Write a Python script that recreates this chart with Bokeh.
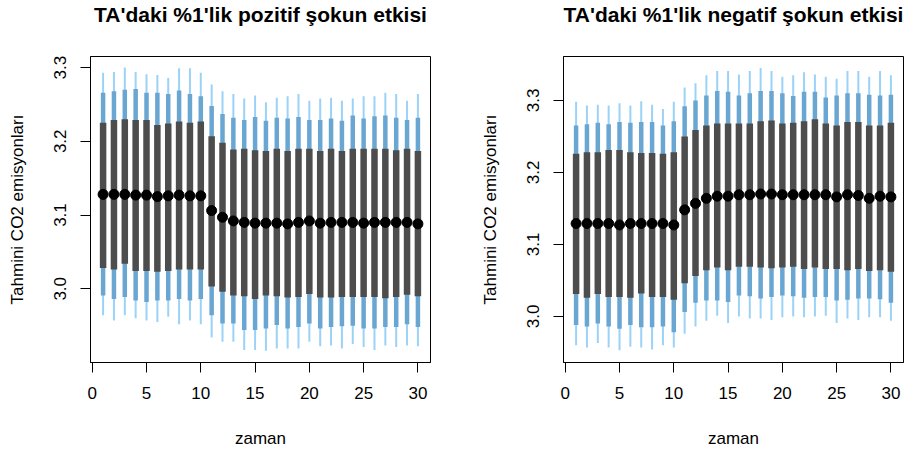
from bokeh.plotting import figure
from bokeh.layouts import row
from bokeh.models import Range1d, FixedTicker, Label
from bokeh.embed import file_html
from bokeh.resources import INLINE

zaman = list(range(1, 31))

# Left panel: positive shock
pos_outer_hi = [3.293, 3.294, 3.300, 3.294, 3.291, 3.290, 3.286, 3.299, 3.299, 3.293,
                3.277, 3.268, 3.264, 3.258, 3.262, 3.253, 3.259, 3.261, 3.264, 3.255,
                3.258, 3.259, 3.255, 3.258, 3.261, 3.261, 3.266, 3.264, 3.255, 3.264]
pos_mid_hi = [3.266, 3.268, 3.270, 3.271, 3.266, 3.266, 3.264, 3.269, 3.264, 3.261,
              3.248, 3.237, 3.232, 3.229, 3.233, 3.228, 3.232, 3.231, 3.233, 3.229,
              3.229, 3.231, 3.228, 3.235, 3.231, 3.234, 3.235, 3.232, 3.229, 3.232]
pos_inner_hi = [3.225, 3.229, 3.230, 3.229, 3.229, 3.222, 3.224, 3.227, 3.225, 3.227,
                3.207, 3.198, 3.189, 3.190, 3.188, 3.187, 3.190, 3.187, 3.190, 3.190,
                3.187, 3.190, 3.187, 3.190, 3.190, 3.190, 3.190, 3.188, 3.190, 3.187]
pos_median = [3.128, 3.128, 3.128, 3.127, 3.127, 3.125, 3.126, 3.127, 3.126, 3.126,
              3.106, 3.097, 3.092, 3.090, 3.089, 3.089, 3.089, 3.088, 3.090, 3.092,
              3.089, 3.090, 3.090, 3.090, 3.089, 3.090, 3.090, 3.090, 3.090, 3.088]
pos_inner_lo = [3.028, 3.026, 3.034, 3.024, 3.024, 3.023, 3.024, 3.026, 3.026, 3.026,
                3.003, 2.996, 2.991, 2.990, 2.986, 2.991, 2.990, 2.988, 2.989, 2.993,
                2.988, 2.988, 2.989, 2.989, 2.989, 2.989, 2.987, 2.989, 2.992, 2.990]
pos_mid_lo = [2.991, 2.986, 2.989, 2.984, 2.982, 2.984, 2.984, 2.986, 2.984, 2.986,
              2.964, 2.953, 2.953, 2.944, 2.944, 2.946, 2.951, 2.946, 2.948, 2.953,
              2.946, 2.948, 2.949, 2.950, 2.946, 2.946, 2.948, 2.948, 2.952, 2.948]
pos_outer_lo = [2.964, 2.957, 2.964, 2.960, 2.957, 2.955, 2.962, 2.952, 2.957, 2.952,
                2.934, 2.928, 2.928, 2.917, 2.917, 2.916, 2.919, 2.919, 2.919, 2.928,
                2.922, 2.923, 2.919, 2.925, 2.921, 2.917, 2.923, 2.921, 2.923, 2.922]

# Right panel: negative shock
neg_outer_hi = [3.298, 3.293, 3.294, 3.293, 3.296, 3.293, 3.299, 3.294, 3.288, 3.298,
                3.318, 3.324, 3.335, 3.341, 3.341, 3.336, 3.341, 3.345, 3.341, 3.333,
                3.335, 3.339, 3.336, 3.333, 3.330, 3.341, 3.341, 3.333, 3.341, 3.335]
neg_mid_hi = [3.265, 3.267, 3.269, 3.267, 3.270, 3.269, 3.270, 3.270, 3.265, 3.271,
              3.292, 3.300, 3.307, 3.313, 3.312, 3.307, 3.310, 3.313, 3.313, 3.310,
              3.306, 3.312, 3.312, 3.304, 3.307, 3.310, 3.310, 3.308, 3.307, 3.308]
neg_inner_hi = [3.226, 3.228, 3.228, 3.231, 3.231, 3.228, 3.227, 3.227, 3.226, 3.228,
                3.250, 3.259, 3.265, 3.268, 3.268, 3.268, 3.268, 3.271, 3.272, 3.268,
                3.269, 3.271, 3.274, 3.268, 3.265, 3.270, 3.270, 3.265, 3.265, 3.269]
neg_median = [3.129, 3.129, 3.129, 3.129, 3.127, 3.129, 3.129, 3.129, 3.129, 3.127,
              3.148, 3.157, 3.164, 3.167, 3.167, 3.169, 3.169, 3.170, 3.170, 3.169,
              3.169, 3.169, 3.169, 3.169, 3.166, 3.169, 3.168, 3.164, 3.167, 3.166]
neg_inner_lo = [3.031, 3.026, 3.031, 3.027, 3.027, 3.026, 3.032, 3.027, 3.027, 3.023,
                3.046, 3.056, 3.064, 3.068, 3.064, 3.069, 3.069, 3.068, 3.067, 3.068,
                3.069, 3.066, 3.068, 3.066, 3.066, 3.064, 3.066, 3.063, 3.064, 3.062]
neg_mid_lo = [2.988, 2.986, 2.990, 2.986, 2.983, 2.988, 2.985, 2.985, 2.986, 2.978,
              3.006, 3.019, 3.022, 3.022, 3.020, 3.029, 3.028, 3.025, 3.027, 3.029,
              3.028, 3.026, 3.027, 3.027, 3.022, 3.023, 3.025, 3.025, 3.024, 3.019]
neg_outer_lo = [2.960, 2.957, 2.963, 2.957, 2.953, 2.958, 2.957, 2.954, 2.960, 2.957,
                2.976, 2.986, 2.994, 3.001, 2.991, 3.000, 2.997, 2.997, 2.995, 2.999,
                3.000, 2.999, 3.000, 3.001, 2.991, 2.997, 2.995, 2.999, 2.999, 2.994]

x_ticks = [0, 5, 10, 15, 20, 25, 30]
y_ticks = [3.0, 3.1, 3.2, 3.3]
y_tick_labels = ["3.0", "3.1", "3.2", "3.3"]
titles = ["TA'daki %1'lik pozitif şokun etkisi", "TA'daki %1'lik negatif şokun etkisi"]
x_label = "zaman"
y_label = "Tahmini CO2 emisyonları"

FONT = "Liberation Sans"
HEIGHT = 451
FRAME_W = 340
FRAME_TOP = 56
FRAME_BOTTOM = 362


def make_panel(title, data, width, yr, border_left, border_right):
    outer_hi, mid_hi, inner_hi, med, inner_lo, mid_lo, outer_lo = data
    p = figure(width=width, height=HEIGHT, output_backend="svg", toolbar_location=None,
               x_range=Range1d(-0.16, 31.16), y_range=yr,
               min_border_left=border_left, min_border_right=border_right,
               min_border_top=FRAME_TOP, min_border_bottom=HEIGHT - FRAME_BOTTOM)
    p.xgrid.visible = False
    p.ygrid.visible = False
    p.outline_line_color = "#000000"
    p.outline_line_width = 1
    p.background_fill_color = "white"
    p.border_fill_color = "white"

    # title placed in the area above the frame
    p.add_layout(Label(x=FRAME_W / 2, y=42, x_units="screen", y_units="screen",
                       text=title, text_font=FONT, text_font_size="21px",
                       text_font_style="bold", text_color="#000000",
                       text_align="center", text_baseline="middle"), "above")

    # intervals
    p.segment(x0=zaman, y0=outer_lo, x1=zaman, y1=outer_hi, line_width=2, line_color="#9ad3f7")
    p.segment(x0=zaman, y0=mid_lo, x1=zaman, y1=mid_hi, line_width=4.5, line_color="#6aa6d2")
    p.segment(x0=zaman, y0=inner_lo, x1=zaman, y1=inner_hi, line_width=6.5, line_color="#4d4d4d")
    p.scatter(x=zaman, y=med, size=10, color="#000000")

    for ax in (p.xaxis[0], p.yaxis[0]):
        ax.axis_line_color = "#000000"
        ax.major_tick_line_color = "#000000"
        ax.major_tick_out = 10
        ax.major_tick_in = 0
        ax.minor_tick_line_color = None
        ax.major_label_text_font = FONT
        ax.major_label_text_font_size = "17px"
        ax.major_label_text_color = "#000000"
        ax.axis_label_text_font = FONT
        ax.axis_label_text_font_size = "17px"
        ax.axis_label_text_font_style = "normal"
        ax.axis_label_text_color = "#000000"
        ax.major_label_standoff = 14

    p.xaxis.ticker = FixedTicker(ticks=x_ticks)
    p.yaxis.ticker = FixedTicker(ticks=y_ticks)
    p.yaxis.major_label_overrides = {t: s for t, s in zip(y_ticks, y_tick_labels)}
    p.yaxis.major_label_orientation = "vertical"
    p.xaxis.axis_label = x_label
    p.yaxis.axis_label = y_label
    p.xaxis.axis_label_standoff = 27
    p.yaxis.axis_label_standoff = 25
    return p


p1 = make_panel(titles[0],
                (pos_outer_hi, pos_mid_hi, pos_inner_hi, pos_median, pos_inner_lo, pos_mid_lo, pos_outer_lo),
                470, Range1d(2.900, 3.315), 90, 40)
p2 = make_panel(titles[1],
                (neg_outer_hi, neg_mid_hi, neg_inner_hi, neg_median, neg_inner_lo, neg_mid_lo, neg_outer_lo),
                437, Range1d(2.936, 3.361), 93, 4)

layout = row(p1, p2)
open("out.html", "w").write(file_html(layout, INLINE))
